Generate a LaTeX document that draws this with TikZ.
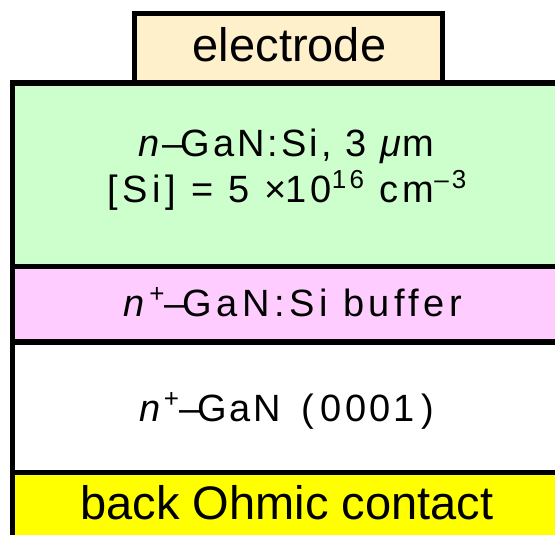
\documentclass[tikz,border=0pt]{standalone}
\usepackage{fontspec}
\setmainfont{Liberation Sans}
\newfontfamily\gothic[LetterSpace=8]{Liberation Sans}
\newfontfamily\gothicw[LetterSpace=12]{Liberation Sans}
\newcommand\mysup[1]{\raisebox{0.38em}{\fontsize{26}{26}\selectfont #1}}
\definecolor{peach}{HTML}{FFF0CC}
\definecolor{lgreen}{HTML}{CCFFCC}
\definecolor{lpink}{HTML}{FFCCFF}
\definecolor{yel}{HTML}{FFFF00}
\begin{document}
\begin{tikzpicture}[x=1pt,y=1pt,
  edge/.style={line width=5.5pt,line join=miter},
  bigtxt/.style={anchor=base,inner sep=0pt,font=\fontsize{47}{52}\selectfont},
  laytxt/.style={anchor=base,inner sep=0pt,font=\gothic\fontsize{38}{42}\selectfont},
  laytxtw/.style={anchor=base,inner sep=0pt,font=\gothicw\fontsize{38}{42}\selectfont}]
\useasboundingbox (0,0) rectangle (555,535);
% layers
\fill[lgreen] (12.5,452) rectangle (580,268.5);
\fill[lpink] (12.5,268.5) rectangle (580,193);
\fill[white] (12.5,193) rectangle (580,62.5);
\fill[yel] (12.5,62.5) rectangle (580,-20);
% electrode
\filldraw[edge,fill=peach] (134.5,452) -- (134.5,521.5) -- (442.5,521.5) -- (442.5,452);
% borders
\draw[edge] (12.5,-20) -- (12.5,452) -- (580,452);
\draw[edge] (12.5,268.5) -- (580,268.5);
\draw[edge] (12.5,193) -- (580,193);
\draw[edge] (12.5,62.5) -- (580,62.5);
% texts
\node[bigtxt] (el) at (289.5,473) {electrode};
\node[laytxt] (l1) at (286,378) {\textit{n}–\kern-3pt GaN:Si, 3 \textit{μ}\kern-2pt m};
\node[laytxtw] (l2) at (287,332) {[Si] = 5 ×\kern-2pt 10\mysup{16} cm\mysup{–3}};
\node[laytxtw] (l3) at (293,218) {\textit{n}\mysup{+}–\kern-3pt GaN:Si buffer};
\node[laytxt] (l4) at (287,113) {\textit{n}\mysup{+}–\kern-3pt GaN\kern20pt(\kern7pt 0001\kern7pt)};
\node[bigtxt] (bk) at (287,15) {back Ohmic contact};
\end{tikzpicture}
\end{document}
